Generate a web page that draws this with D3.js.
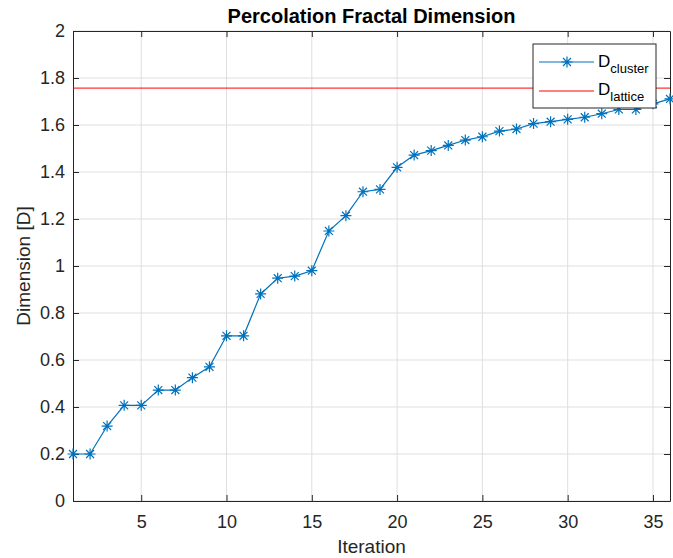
<!DOCTYPE html>
<html><head><meta charset="utf-8">
<script src="https://cdn.jsdelivr.net/npm/d3@7"></script>
<style>body{margin:0;background:#fff}svg{display:block}text{font-family:"Liberation Sans",Arial,sans-serif}</style>
</head><body><svg id="c" width="673" height="558"></svg>
<script>
const iterations = d3.range(1, 37);
const dCluster = [0.200,0.200,0.319,0.407,0.407,0.472,0.472,0.525,0.571,0.703,
  0.703,0.881,0.948,0.957,0.980,1.149,1.214,1.316,1.326,1.420,
  1.472,1.491,1.513,1.536,1.550,1.574,1.583,1.606,1.614,1.624,
  1.633,1.648,1.666,1.666,1.690,1.711];
const dLattice = 1.757;
const xTicks = [5,10,15,20,25,30,35];
const yTicks = [0,0.2,0.4,0.6,0.8,1,1.2,1.4,1.6,1.8,2];
const titleText = "Percolation Fractal Dimension";
const xLabel = "Iteration", yLabel = "Dimension [D]";

const svg = d3.select("#c");
const L=73, R=670, T=31, B=501;
const x = d3.scaleLinear().domain([1,36]).range([L,R]);
const y = d3.scaleLinear().domain([0,2]).range([B,T]);
const axisCol = "#262626", blue = "#0072BD";

// grid
svg.append("g").selectAll("line").data(xTicks).join("line")
  .attr("x1",d=>x(d)).attr("x2",d=>x(d)).attr("y1",T).attr("y2",B)
  .attr("stroke","#dfdfdf").attr("stroke-width",1);
svg.append("g").selectAll("line").data(yTicks).join("line")
  .attr("y1",d=>y(d)).attr("y2",d=>y(d)).attr("x1",L).attr("x2",R)
  .attr("stroke","#dfdfdf").attr("stroke-width",1);

// axes
const fmt = d => d3.format("~g")(d);
const gx = svg.append("g").attr("transform",`translate(0,${B})`)
  .call(d3.axisBottom(x).tickValues(xTicks).tickSizeInner(-6).tickSizeOuter(0).tickPadding(14).tickFormat(fmt));
const gy = svg.append("g").attr("transform",`translate(${L},0)`)
  .call(d3.axisLeft(y).tickValues(yTicks).tickSizeInner(-6).tickSizeOuter(0).tickPadding(8).tickFormat(fmt));
const gx2 = svg.append("g").attr("transform",`translate(0,${T})`)
  .call(d3.axisTop(x).tickValues(xTicks).tickSizeInner(-6).tickSizeOuter(0).tickFormat(""));
const gy2 = svg.append("g").attr("transform",`translate(${R},0)`)
  .call(d3.axisRight(y).tickValues(yTicks).tickSizeInner(-6).tickSizeOuter(0).tickFormat(""));
[gx,gy,gx2,gy2].forEach(g=>{
  g.selectAll("path,line").attr("stroke",axisCol);
  g.selectAll("text").attr("fill",axisCol).attr("font-size",18);
});

// lattice line
svg.append("line").attr("x1",L).attr("x2",R).attr("y1",y(dLattice)).attr("y2",y(dLattice))
  .attr("stroke","#ff0000").attr("stroke-width",1);

// cluster line
const data = iterations.map((d,i)=>[d,dCluster[i]]);
svg.append("path").datum(data)
  .attr("d", d3.line().x(d=>x(d[0])).y(d=>y(d[1])))
  .attr("fill","none").attr("stroke",blue).attr("stroke-width",1.2);

function star(g, cx, cy, s){
  const p = `M${cx-s},${cy}L${cx+s},${cy}M${cx},${cy-s}L${cx},${cy+s}`+
    `M${cx-s*0.72},${cy-s*0.72}L${cx+s*0.72},${cy+s*0.72}M${cx-s*0.72},${cy+s*0.72}L${cx+s*0.72},${cy-s*0.72}`;
  g.append("path").attr("d",p).attr("stroke",blue).attr("stroke-width",1.2).attr("fill","none");
}
const mk = svg.append("g");
data.forEach(d=>star(mk, x(d[0]), y(d[1]), 5.5));

// legend
const lg = svg.append("g");
lg.append("rect").attr("x",533).attr("y",44).attr("width",123).attr("height",64)
  .attr("fill","#fff").attr("stroke",axisCol).attr("stroke-width",1);
lg.append("line").attr("x1",539).attr("x2",594).attr("y1",62).attr("y2",62).attr("stroke",blue).attr("stroke-width",1.2);
star(lg, 567, 62, 5.5);
lg.append("line").attr("x1",539).attr("x2",594).attr("y1",91).attr("y2",91).attr("stroke","#ff0000");
const t1 = lg.append("text").attr("x",598).attr("y",67).attr("fill","#000").attr("font-size",17);
t1.append("tspan").text("D");
t1.append("tspan").attr("dy",6).attr("font-size",13).text("cluster");
const t2 = lg.append("text").attr("x",598).attr("y",95).attr("fill","#000").attr("font-size",17);
t2.append("tspan").text("D");
t2.append("tspan").attr("dy",6).attr("font-size",13).text("lattice");

// titles
svg.append("text").attr("x",(L+R)/2).attr("y",23).attr("text-anchor","middle")
  .attr("font-size",20).attr("font-weight","bold").attr("fill","#000").text(titleText);
svg.append("text").attr("x",(L+R)/2).attr("y",553).attr("text-anchor","middle")
  .attr("font-size",19).attr("fill",axisCol).text(xLabel);
svg.append("text").attr("transform",`translate(30,${(T+B)/2}) rotate(-90)`).attr("text-anchor","middle")
  .attr("font-size",19).attr("fill",axisCol).text(yLabel);
</script></body></html>
